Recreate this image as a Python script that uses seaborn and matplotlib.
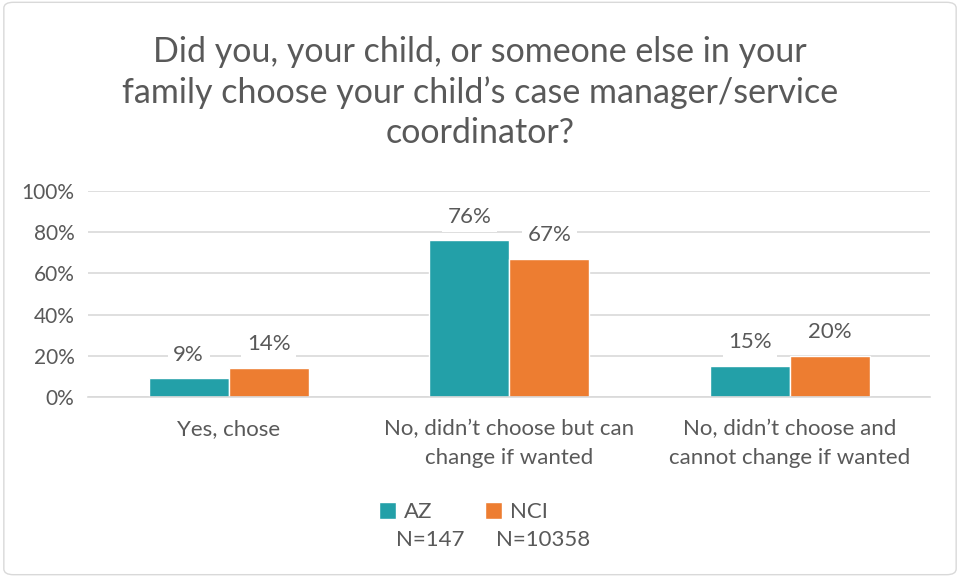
import seaborn as sns
import pandas as pd
import matplotlib.pyplot as plt
from matplotlib.patches import FancyBboxPatch, Patch

categories = ['Yes, chose', 'No, didn\u2019t choose but can\nchange if wanted',
              'No, didn\u2019t choose and\ncannot change if wanted']
az = [9, 76, 15]
nci = [14, 67, 20]
groups = ['AZ', 'NCI']
group_n = ['N=147', 'N=10358']
colors = ['#23A0A8', '#ED7D31']

df = pd.DataFrame({
    'category': categories * 2,
    'group': [groups[0]] * 3 + [groups[1]] * 3,
    'value': az + nci,
})

sns.set_style('white')
plt.rcParams['font.family'] = ['Lato', 'DejaVu Sans']
grey = '#595959'

fig = plt.figure(figsize=(9.6, 5.77), dpi=100)
ax = fig.add_axes([0.092, 0.312, 0.877, 0.357])
sns.barplot(data=df, x='category', y='value', hue='group', palette=colors,
            width=0.57, saturation=1, ax=ax, legend=False)

ax.set_ylim(0, 100)
ax.set_xlim(-0.5, 2.5)
ax.set_yticks(range(0, 101, 20))
ax.set_yticklabels([f'{v}%' for v in range(0, 101, 20)], color=grey, fontsize=15)
ax.tick_params(axis='x', colors=grey, labelsize=16, length=0, pad=16)
ax.tick_params(axis='y', length=0, pad=10)
for t in ax.get_xticklabels():
    t.set_linespacing(1.55)
ax.set_xlabel('')
ax.set_ylabel('')
ax.grid(axis='y', color='#D9D9D9', linewidth=1.2)
ax.set_axisbelow(True)
for s in ['top', 'left', 'right']:
    ax.spines[s].set_visible(False)
ax.spines['bottom'].set_color('#D9D9D9')
ax.spines['bottom'].set_linewidth(1.2)

for cont in ax.containers:
    ax.bar_label(cont, labels=[f'{int(v)}%' for v in cont.datavalues], padding=10,
                 fontsize=16, color=grey,
                 bbox=dict(facecolor='white', edgecolor='none', pad=4))

fig.text(0.5, 0.84, 'Did you, your child, or someone else in your\n'
         'family choose your child\u2019s case manager/service\ncoordinator?',
         ha='center', va='center', fontsize=24.5, color=grey, linespacing=1.3)

handles = [Patch(facecolor=c) for c in colors]
fig.legend(handles, groups, loc='center left', bbox_to_anchor=(0.395, 0.112), ncol=2,
           frameon=False, fontsize=16, handlelength=0.75, handleheight=0.75,
           handletextpad=0.35, columnspacing=2.4, labelcolor=grey,
           borderaxespad=0, borderpad=0)
fig.text(0.413, 0.064, group_n[0], fontsize=16, color=grey, ha='left', va='center')
fig.text(0.517, 0.064, group_n[1], fontsize=16, color=grey, ha='left', va='center')

border = FancyBboxPatch((0.004, 0.004), 0.992, 0.992, boxstyle='round,pad=0,rounding_size=0.01',
                        transform=fig.transFigure, fill=False, edgecolor='#D9D9D9', linewidth=1)
fig.patches.append(border)

fig.savefig('out.png', dpi=100)
